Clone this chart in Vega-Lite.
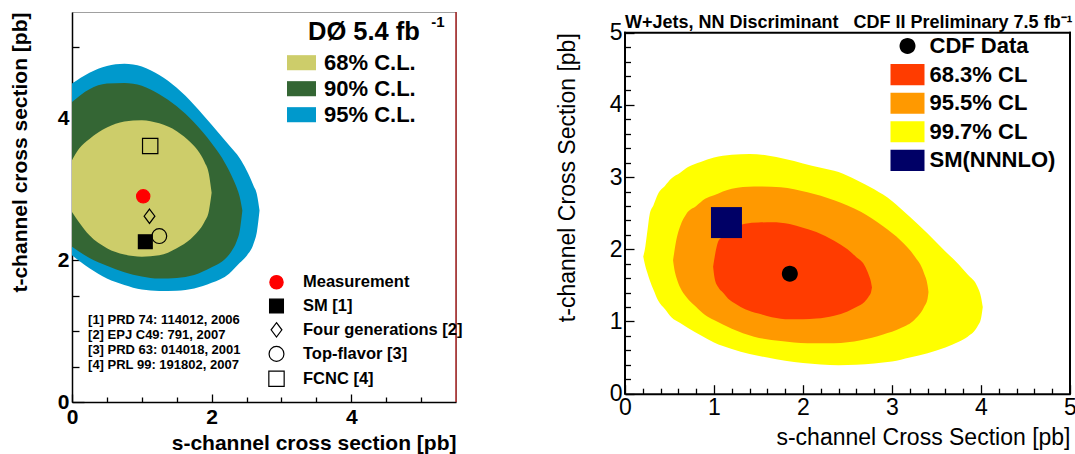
{
  "$schema": "https://vega.github.io/schema/vega-lite/v6.json",
  "background": "white",
  "padding": {"left": 8, "top": 10, "right": 0, "bottom": 0},
  "columns": 2,
  "spacing": 92,
  "align": "none",
  "resolve": {"scale": {"color": "independent", "shape": "independent", "fill": "independent", "stroke": "independent", "size": "independent"}, "legend": {"color": "independent", "shape": "independent", "fill": "independent", "stroke": "independent", "size": "independent"}},
  "config": {
    "font": "Liberation Sans",
    "view": {"stroke": null},
    "axis": {"grid": false, "labelColor": "black", "titleColor": "black", "tickColor": "black", "domainColor": "black", "labelOverlap": false, "labelFlush": false, "labelBound": false, "tickCount": 100, "tickMinStep": 0.001},
    "legend": {"labelColor": "black", "padding": 0, "labelLimit": 300}
  },
  "datasets": {
    "d0_95": [
      {"s": 0, "t": 4.49, "t2": 2.07, "level": "95% C.L."},
      {"s": 0.25, "t": 4.645, "t2": 1.885, "level": "95% C.L."},
      {"s": 0.5, "t": 4.74, "t2": 1.74, "level": "95% C.L."},
      {"s": 0.75, "t": 4.77, "t2": 1.65, "level": "95% C.L."},
      {"s": 1.0, "t": 4.73, "t2": 1.585, "level": "95% C.L."},
      {"s": 1.25, "t": 4.61, "t2": 1.565, "level": "95% C.L."},
      {"s": 1.5, "t": 4.43, "t2": 1.57, "level": "95% C.L."},
      {"s": 1.75, "t": 4.19, "t2": 1.6, "level": "95% C.L."},
      {"s": 2.0, "t": 3.91, "t2": 1.68, "level": "95% C.L."},
      {"s": 2.25, "t": 3.62, "t2": 1.81, "level": "95% C.L."},
      {"s": 2.4, "t": 3.44, "t2": 1.96, "level": "95% C.L."},
      {"s": 2.5, "t": 3.27, "t2": 2.06, "level": "95% C.L."},
      {"s": 2.6, "t": 3.05, "t2": 2.23, "level": "95% C.L."},
      {"s": 2.65, "t": 2.92, "t2": 2.41, "level": "95% C.L."},
      {"s": 2.686, "t": 2.7, "t2": 2.7, "level": "95% C.L."}
    ],
    "d0_90": [
      {"s": 0, "t": 4.23, "t2": 2.19, "level": "90% C.L."},
      {"s": 0.25, "t": 4.41, "t2": 2.03, "level": "90% C.L."},
      {"s": 0.5, "t": 4.49, "t2": 1.92, "level": "90% C.L."},
      {"s": 0.75, "t": 4.5, "t2": 1.83, "level": "90% C.L."},
      {"s": 1.0, "t": 4.46, "t2": 1.77, "level": "90% C.L."},
      {"s": 1.25, "t": 4.34, "t2": 1.74, "level": "90% C.L."},
      {"s": 1.5, "t": 4.17, "t2": 1.75, "level": "90% C.L."},
      {"s": 1.75, "t": 3.94, "t2": 1.79, "level": "90% C.L."},
      {"s": 2.0, "t": 3.65, "t2": 1.9, "level": "90% C.L."},
      {"s": 2.15, "t": 3.44, "t2": 1.98, "level": "90% C.L."},
      {"s": 2.28, "t": 3.2, "t2": 2.12, "level": "90% C.L."},
      {"s": 2.36, "t": 3.02, "t2": 2.27, "level": "90% C.L."},
      {"s": 2.4, "t": 2.9, "t2": 2.4, "level": "90% C.L."},
      {"s": 2.44, "t": 2.7, "t2": 2.7, "level": "90% C.L."}
    ],
    "d0_68": [
      {"s": 0, "t": 3.41, "t2": 2.68, "level": "68% C.L."},
      {"s": 0.1, "t": 3.57, "t2": 2.535, "level": "68% C.L."},
      {"s": 0.25, "t": 3.71, "t2": 2.35, "level": "68% C.L."},
      {"s": 0.5, "t": 3.87, "t2": 2.17, "level": "68% C.L."},
      {"s": 0.75, "t": 3.955, "t2": 2.08, "level": "68% C.L."},
      {"s": 1.0, "t": 3.975, "t2": 2.05, "level": "68% C.L."},
      {"s": 1.25, "t": 3.93, "t2": 2.07, "level": "68% C.L."},
      {"s": 1.5, "t": 3.82, "t2": 2.17, "level": "68% C.L."},
      {"s": 1.7, "t": 3.66, "t2": 2.3, "level": "68% C.L."},
      {"s": 1.8, "t": 3.55, "t2": 2.4, "level": "68% C.L."},
      {"s": 1.9, "t": 3.38, "t2": 2.545, "level": "68% C.L."},
      {"s": 1.96, "t": 3.22, "t2": 2.69, "level": "68% C.L."},
      {"s": 2.0, "t": 2.95, "t2": 2.95, "level": "68% C.L."}
    ],
    "d0_markers": [
      {"s": 1.02, "t": 2.9, "model": "Measurement"},
      {"s": 1.05, "t": 2.26, "model": "SM [1]"},
      {"s": 1.11, "t": 2.62, "model": "Four generations [2]"},
      {"s": 1.25, "t": 2.34, "model": "Top-flavor [3]"},
      {"s": 1.12, "t": 3.61, "model": "FCNC [4]"}
    ],
    "cdf_997": [
      {"s": 0.205, "t": 1.9, "t2": 1.9, "series": "99.7% CL"},
      {"s": 0.222, "t": 1.99, "t2": 1.8, "series": "99.7% CL"},
      {"s": 0.25, "t": 2.24, "t2": 1.68, "series": "99.7% CL"},
      {"s": 0.278, "t": 2.49, "t2": 1.57, "series": "99.7% CL"},
      {"s": 0.32, "t": 2.61, "t2": 1.44, "series": "99.7% CL"},
      {"s": 0.372, "t": 2.77, "t2": 1.29, "series": "99.7% CL"},
      {"s": 0.45, "t": 2.88, "t2": 1.17, "series": "99.7% CL"},
      {"s": 0.521, "t": 2.98, "t2": 1.06, "series": "99.7% CL"},
      {"s": 0.62, "t": 3.06, "t2": 0.98, "series": "99.7% CL"},
      {"s": 0.708, "t": 3.14, "t2": 0.91, "series": "99.7% CL"},
      {"s": 0.85, "t": 3.21, "t2": 0.81, "series": "99.7% CL"},
      {"s": 1.0, "t": 3.27, "t2": 0.71, "series": "99.7% CL"},
      {"s": 1.2, "t": 3.31, "t2": 0.62, "series": "99.7% CL"},
      {"s": 1.4, "t": 3.32, "t2": 0.55, "series": "99.7% CL"},
      {"s": 1.6, "t": 3.3, "t2": 0.5, "series": "99.7% CL"},
      {"s": 1.8, "t": 3.25, "t2": 0.455, "series": "99.7% CL"},
      {"s": 2.0, "t": 3.19, "t2": 0.425, "series": "99.7% CL"},
      {"s": 2.2, "t": 3.13, "t2": 0.405, "series": "99.7% CL"},
      {"s": 2.4, "t": 3.07, "t2": 0.395, "series": "99.7% CL"},
      {"s": 2.6, "t": 2.96, "t2": 0.4, "series": "99.7% CL"},
      {"s": 2.8, "t": 2.83, "t2": 0.42, "series": "99.7% CL"},
      {"s": 3.0, "t": 2.67, "t2": 0.445, "series": "99.7% CL"},
      {"s": 3.2, "t": 2.45, "t2": 0.5, "series": "99.7% CL"},
      {"s": 3.4, "t": 2.22, "t2": 0.56, "series": "99.7% CL"},
      {"s": 3.6, "t": 1.97, "t2": 0.64, "series": "99.7% CL"},
      {"s": 3.75, "t": 1.79, "t2": 0.72, "series": "99.7% CL"},
      {"s": 3.85, "t": 1.65, "t2": 0.79, "series": "99.7% CL"},
      {"s": 3.96, "t": 1.48, "t2": 0.93, "series": "99.7% CL"},
      {"s": 4.0, "t": 1.34, "t2": 1.04, "series": "99.7% CL"},
      {"s": 4.02, "t": 1.2, "t2": 1.2, "series": "99.7% CL"}
    ],
    "cdf_955": [
      {"s": 0.54, "t": 1.85, "t2": 1.85, "series": "95.5% CL"},
      {"s": 0.551, "t": 1.94, "t2": 1.75, "series": "95.5% CL"},
      {"s": 0.58, "t": 2.15, "t2": 1.6, "series": "95.5% CL"},
      {"s": 0.62, "t": 2.32, "t2": 1.47, "series": "95.5% CL"},
      {"s": 0.689, "t": 2.49, "t2": 1.34, "series": "95.5% CL"},
      {"s": 0.8, "t": 2.6, "t2": 1.2, "series": "95.5% CL"},
      {"s": 0.9, "t": 2.7, "t2": 1.09, "series": "95.5% CL"},
      {"s": 1.0, "t": 2.75, "t2": 1.02, "series": "95.5% CL"},
      {"s": 1.2, "t": 2.84, "t2": 0.9, "series": "95.5% CL"},
      {"s": 1.45, "t": 2.87, "t2": 0.79, "series": "95.5% CL"},
      {"s": 1.75, "t": 2.86, "t2": 0.73, "series": "95.5% CL"},
      {"s": 2.05, "t": 2.79, "t2": 0.7, "series": "95.5% CL"},
      {"s": 2.35, "t": 2.68, "t2": 0.7, "series": "95.5% CL"},
      {"s": 2.65, "t": 2.52, "t2": 0.74, "series": "95.5% CL"},
      {"s": 2.9, "t": 2.32, "t2": 0.82, "series": "95.5% CL"},
      {"s": 3.1, "t": 2.12, "t2": 0.91, "series": "95.5% CL"},
      {"s": 3.25, "t": 1.91, "t2": 1.02, "series": "95.5% CL"},
      {"s": 3.36, "t": 1.67, "t2": 1.2, "series": "95.5% CL"},
      {"s": 3.4, "t": 1.5, "t2": 1.32, "series": "95.5% CL"},
      {"s": 3.41, "t": 1.41, "t2": 1.41, "series": "95.5% CL"}
    ],
    "cdf_683": [
      {"s": 0.99, "t": 1.76, "t2": 1.76, "series": "68.3% CL"},
      {"s": 1.007, "t": 1.89, "t2": 1.6, "series": "68.3% CL"},
      {"s": 1.045, "t": 2.1, "t2": 1.48, "series": "68.3% CL"},
      {"s": 1.1, "t": 2.18, "t2": 1.4, "series": "68.3% CL"},
      {"s": 1.157, "t": 2.26, "t2": 1.32, "series": "68.3% CL"},
      {"s": 1.25, "t": 2.31, "t2": 1.24, "series": "68.3% CL"},
      {"s": 1.35, "t": 2.355, "t2": 1.17, "series": "68.3% CL"},
      {"s": 1.5, "t": 2.37, "t2": 1.11, "series": "68.3% CL"},
      {"s": 1.65, "t": 2.375, "t2": 1.06, "series": "68.3% CL"},
      {"s": 1.85, "t": 2.35, "t2": 1.03, "series": "68.3% CL"},
      {"s": 2.0, "t": 2.3, "t2": 1.03, "series": "68.3% CL"},
      {"s": 2.15, "t": 2.24, "t2": 1.04, "series": "68.3% CL"},
      {"s": 2.35, "t": 2.12, "t2": 1.08, "series": "68.3% CL"},
      {"s": 2.5, "t": 2.0, "t2": 1.14, "series": "68.3% CL"},
      {"s": 2.6, "t": 1.89, "t2": 1.2, "series": "68.3% CL"},
      {"s": 2.69, "t": 1.78, "t2": 1.27, "series": "68.3% CL"},
      {"s": 2.74, "t": 1.64, "t2": 1.35, "series": "68.3% CL"},
      {"s": 2.765, "t": 1.54, "t2": 1.41, "series": "68.3% CL"},
      {"s": 2.775, "t": 1.47, "t2": 1.47, "series": "68.3% CL"}
    ],
    "cdf_data": [{"s": 1.852, "t": 1.66, "series": "CDF Data"}],
    "cdf_sm": [{"s": 1.14, "t": 2.37, "series": "SM(NNNLO)"}]
  },
  "concat": [
    {
      "width": 384,
      "height": 390,
      "view": {"stroke": "#a0a0a0", "strokeWidth": 1},
      "layer": [
        {
          "data": {"name": "d0_95"},
          "mark": {"type": "area", "interpolate": "monotone", "opacity": 1, "clip": true},
          "encoding": {
            "x": {
              "field": "s", "type": "quantitative",
              "scale": {"domain": [0, 5.5], "nice": false, "zero": false},
              "axis": {
                "title": "s-channel cross section [pb]",
                "values": [0, 0.5, 1, 1.5, 2, 2.5, 3, 3.5, 4, 4.5, 5],
                "tickCount": 100, "tickMinStep": 0.001,
                "labelExpr": "datum.value % 2 === 0 ? format(datum.value, 'd') : ''",
                "labelOverlap": false,
                "tickSize": {"condition": {"test": "datum.value % 2 === 0", "value": -8}, "value": -5},
                "tickWidth": 1.3,
                "domainWidth": 1.5,
                "labelFontSize": 21, "labelFontWeight": "bold", "labelPadding": 12,
                "titleFontSize": 21, "titleFontWeight": "bold", "titleAnchor": "end", "titlePadding": 2
              }
            },
            "y": {
              "field": "t", "type": "quantitative",
              "scale": {"domain": [0, 5.5], "nice": false, "zero": false},
              "axis": {
                "title": "t-channel cross section [pb]",
                "values": [0, 0.5, 1, 1.5, 2, 2.5, 3, 3.5, 4, 4.5, 5],
                "tickCount": 100, "tickMinStep": 0.001,
                "labelExpr": "datum.value % 2 === 0 ? format(datum.value, 'd') : ''",
                "labelOverlap": false,
                "tickSize": {"condition": {"test": "datum.value % 2 === 0", "value": -12}, "value": -7},
                "tickWidth": 1.3,
                "domainWidth": 1.5,
                "labelFontSize": 21, "labelFontWeight": "bold", "labelPadding": 15,
                "titleFontSize": 21, "titleFontWeight": "bold", "titleAnchor": "end", "titlePadding": 27
              }
            },
            "y2": {"field": "t2"},
            "color": {
              "field": "level", "type": "nominal",
              "scale": {"domain": ["68% C.L.", "90% C.L.", "95% C.L."], "range": ["#cdcd6a", "#346634", "#0099cc"]},
              "legend": {
                "orient": "none", "legendX": 215, "legendY": 36.2, "title": null,
                "symbolType": "M-1,-0.52H1V0.52H-1Z", "symbolSize": 841, "symbolStrokeWidth": 0,
                "labelFontSize": 22, "labelFontWeight": "bold", "labelOffset": 8, "rowPadding": 0, "padding": 0
              }
            }
          }
        },
        {
          "data": {"name": "d0_90"},
          "mark": {"type": "area", "interpolate": "monotone", "opacity": 1, "clip": true},
          "encoding": {
            "x": {"field": "s", "type": "quantitative"},
            "y": {"field": "t", "type": "quantitative"},
            "y2": {"field": "t2"},
            "color": {"field": "level", "type": "nominal"}
          }
        },
        {
          "data": {"name": "d0_68"},
          "mark": {"type": "area", "interpolate": "monotone", "opacity": 1, "clip": true},
          "encoding": {
            "x": {"field": "s", "type": "quantitative"},
            "y": {"field": "t", "type": "quantitative"},
            "y2": {"field": "t2"},
            "color": {"field": "level", "type": "nominal"}
          }
        },
        {
          "data": {"values": [{}]},
          "mark": {"type": "rule", "color": "#a52020", "strokeWidth": 1.5},
          "encoding": {"x": {"datum": 5.5, "type": "quantitative"}}
        },
        {
          "data": {"name": "d0_markers"},
          "mark": {"type": "point", "opacity": 1, "strokeWidth": 1.2},
          "encoding": {
            "x": {"field": "s", "type": "quantitative"},
            "y": {"field": "t", "type": "quantitative"},
            "shape": {
              "field": "model", "type": "nominal",
              "scale": {"domain": ["Measurement", "SM [1]", "Four generations [2]", "Top-flavor [3]", "FCNC [4]"], "range": ["circle", "square", "M0,-1L0.75,0L0,1L-0.75,0Z", "circle", "square"]},
              "legend": {
                "orient": "none", "legendX": 196, "legendY": 262, "title": null,
                "labelFontSize": 16.5, "labelFontWeight": "bold", "labelOffset": 18, "rowPadding": 3.8, "padding": 0, "symbolStrokeWidth": 1.2
              }
            },
            "fill": {
              "field": "model", "type": "nominal",
              "scale": {"domain": ["Measurement", "SM [1]", "Four generations [2]", "Top-flavor [3]", "FCNC [4]"], "range": ["#ff0000", "#000000", "transparent", "transparent", "transparent"]},
              "legend": {
                "orient": "none", "legendX": 196, "legendY": 262, "title": null,
                "labelFontSize": 16.5, "labelFontWeight": "bold", "labelOffset": 18, "rowPadding": 3.8, "padding": 0, "symbolStrokeWidth": 1.2
              }
            },
            "stroke": {
              "field": "model", "type": "nominal",
              "scale": {"domain": ["Measurement", "SM [1]", "Four generations [2]", "Top-flavor [3]", "FCNC [4]"], "range": ["#ff0000", "#000000", "#000000", "#000000", "#000000"]},
              "legend": {
                "orient": "none", "legendX": 196, "legendY": 262, "title": null,
                "labelFontSize": 16.5, "labelFontWeight": "bold", "labelOffset": 18, "rowPadding": 3.8, "padding": 0, "symbolStrokeWidth": 1.2
              }
            },
            "size": {
              "field": "model", "type": "nominal",
              "scale": {"domain": ["Measurement", "SM [1]", "Four generations [2]", "Top-flavor [3]", "FCNC [4]"], "range": [177, 235, 225, 139, 196]},
              "legend": {
                "orient": "none", "legendX": 196, "legendY": 262, "title": null,
                "labelFontSize": 16.5, "labelFontWeight": "bold", "labelOffset": 18, "rowPadding": 3.8, "padding": 0, "symbolStrokeWidth": 1.2
              }
            }
          }
        },
        {
          "data": {"values": [{}]},
          "mark": {"type": "text", "text": ["[1] PRD 74: 114012, 2006", "[2] EPJ C49: 791, 2007", "[3] PRD 63: 014018, 2001", "[4] PRL 99: 191802, 2007"], "align": "left", "baseline": "middle", "fontSize": 13, "fontWeight": "bold", "lineHeight": 15, "color": "black"},
          "encoding": {"x": {"datum": 0.23, "type": "quantitative"}, "y": {"datum": 1.157, "type": "quantitative"}}
        },
        {
          "data": {"values": [{}]},
          "mark": {"type": "text", "text": "DØ 5.4 fb", "align": "left", "baseline": "alphabetic", "fontSize": 25.5, "fontWeight": "bold", "color": "black"},
          "encoding": {"x": {"datum": 3.38, "type": "quantitative"}, "y": {"datum": 5.11, "type": "quantitative"}}
        },
        {
          "data": {"values": [{}]},
          "mark": {"type": "text", "text": "-1", "align": "left", "baseline": "alphabetic", "fontSize": 15, "fontWeight": "bold", "color": "black"},
          "encoding": {"x": {"datum": 5.147, "type": "quantitative"}, "y": {"datum": 5.282, "type": "quantitative"}}
        }
      ]
    },
    {
      "width": 445,
      "height": 381.7,
      "view": {"stroke": null},
      "layer": [
        {
          "data": {"name": "cdf_997"},
          "mark": {"type": "area", "interpolate": "monotone", "opacity": 1},
          "encoding": {
            "x": {
              "field": "s", "type": "quantitative",
              "scale": {"domain": [0, 5], "nice": false, "zero": false},
              "axis": {
                "title": "s-channel Cross Section [pb]",
                "values": [0, 0.2, 0.4, 0.6, 0.8, 1, 1.2, 1.4, 1.6, 1.8, 2, 2.2, 2.4, 2.6, 2.8, 3, 3.2, 3.4, 3.6, 3.8, 4, 4.2, 4.4, 4.6, 4.8, 5],
                "tickCount": 100, "tickMinStep": 0.001,
                "labelExpr": "datum.value % 1 === 0 ? format(datum.value, 'd') : ''",
                "labelOverlap": false,
                "tickSize": {"condition": {"test": "datum.value % 1 === 0", "value": -9}, "value": -5.5},
                "tickWidth": 1.3,
                "domainWidth": 2,
                "labelFontSize": 23, "labelPadding": 12,
                "titleFontSize": 23, "titleFontWeight": "normal", "titleAnchor": "end", "titlePadding": 3
              }
            },
            "y": {
              "field": "t", "type": "quantitative",
              "scale": {"domain": [0, 5.2867], "nice": false, "zero": false},
              "axis": {
                "title": "t-channel Cross Section [pb]",
                "values": [0, 0.2, 0.4, 0.6, 0.8, 1, 1.2, 1.4, 1.6, 1.8, 2, 2.2, 2.4, 2.6, 2.8, 3, 3.2, 3.4, 3.6, 3.8, 4, 4.2, 4.4, 4.6, 4.8, 5],
                "tickCount": 100, "tickMinStep": 0.001,
                "labelExpr": "datum.value % 1 === 0 ? format(datum.value, 'd') : ''",
                "labelOverlap": false,
                "domain": false,
                "tickSize": {"condition": {"test": "datum.value % 1 === 0", "value": -9}, "value": -5.5},
                "tickWidth": 1.3,
                "labelFontSize": 23, "labelPadding": 12,
                "titleFontSize": 23, "titleFontWeight": "normal", "titleAnchor": "end", "titlePadding": 29.5, "titleY": 20.7
              }
            },
            "y2": {"field": "t2"},
            "color": {
              "field": "series", "type": "nominal",
              "scale": {"domain": ["CDF Data", "68.3% CL", "95.5% CL", "99.7% CL", "SM(NNNLO)"], "range": ["#000000", "#ff3c00", "#ff9900", "#ffff00", "#000066"]},
              "legend": {
                "orient": "none", "legendX": 265.5, "legendY": 17, "title": null,
                "symbolType": "M-1,-0.62H1V0.62H-1Z", "symbolSize": 1156, "symbolStrokeWidth": 0,
                "labelFontSize": 22, "labelFontWeight": "bold", "labelOffset": 5, "rowPadding": 0.6, "padding": 0
              }
            }
          }
        },
        {
          "data": {"name": "cdf_955"},
          "mark": {"type": "area", "interpolate": "monotone", "opacity": 1},
          "encoding": {
            "x": {"field": "s", "type": "quantitative"},
            "y": {"field": "t", "type": "quantitative"},
            "y2": {"field": "t2"},
            "color": {"field": "series", "type": "nominal"}
          }
        },
        {
          "data": {"name": "cdf_683"},
          "mark": {"type": "area", "interpolate": "monotone", "opacity": 1},
          "encoding": {
            "x": {"field": "s", "type": "quantitative"},
            "y": {"field": "t", "type": "quantitative"},
            "y2": {"field": "t2"},
            "color": {"field": "series", "type": "nominal"}
          }
        },
        {
          "data": {"name": "cdf_data"},
          "mark": {"type": "point", "filled": true, "size": 1156, "opacity": 1},
          "encoding": {
            "x": {"field": "s", "type": "quantitative"},
            "y": {"field": "t", "type": "quantitative"},
            "color": {"field": "series", "type": "nominal"},
            "shape": {
              "field": "series", "type": "nominal",
              "scale": {"domain": ["CDF Data", "68.3% CL", "95.5% CL", "99.7% CL", "SM(NNNLO)"], "range": ["M0.47,0A0.47,0.47,0,1,1,-0.47,0A0.47,0.47,0,1,1,0.47,0Z", "M-1,-0.62H1V0.62H-1Z", "M-1,-0.62H1V0.62H-1Z", "M-1,-0.62H1V0.62H-1Z", "M-1,-0.62H1V0.62H-1Z"]},
              "legend": {
                "orient": "none", "legendX": 265.5, "legendY": 17, "title": null,
                "symbolSize": 1156, "symbolStrokeWidth": 0,
                "labelFontSize": 22, "labelFontWeight": "bold", "labelOffset": 5, "rowPadding": 0.6, "padding": 0
              }
            }
          }
        },
        {
          "data": {"name": "cdf_sm"},
          "mark": {"type": "point", "filled": true, "shape": "square", "size": 961, "opacity": 1},
          "encoding": {
            "x": {"field": "s", "type": "quantitative"},
            "y": {"field": "t", "type": "quantitative"},
            "color": {"field": "series", "type": "nominal"}
          }
        },
        {
          "data": {"values": [{}]},
          "mark": {"type": "rule", "color": "black", "strokeWidth": 2, "strokeCap": "square"},
          "encoding": {"x": {"datum": 0, "type": "quantitative"}, "y": {"datum": 0, "type": "quantitative"}, "y2": {"datum": 5}}
        },
        {
          "data": {"values": [{}]},
          "mark": {"type": "rule", "color": "black", "strokeWidth": 2, "strokeCap": "square"},
          "encoding": {"x": {"datum": 5, "type": "quantitative"}, "y": {"datum": 0, "type": "quantitative"}, "y2": {"datum": 5}}
        },
        {
          "data": {"values": [{}]},
          "mark": {"type": "rule", "color": "black", "strokeWidth": 2, "strokeCap": "square"},
          "encoding": {"x": {"datum": 0, "type": "quantitative"}, "x2": {"datum": 5}, "y": {"datum": 5, "type": "quantitative"}}
        },
        {
          "data": {"values": [{}]},
          "mark": {"type": "text", "text": "W+Jets, NN Discriminant\u00a0\u00a0 CDF II Preliminary 7.5 fb⁻¹", "align": "left", "baseline": "alphabetic", "fontSize": 18, "fontWeight": "bold", "color": "black"},
          "encoding": {"x": {"datum": 0, "type": "quantitative"}, "y": {"datum": 5.065, "type": "quantitative"}}
        }
      ]
    }
  ]
}
